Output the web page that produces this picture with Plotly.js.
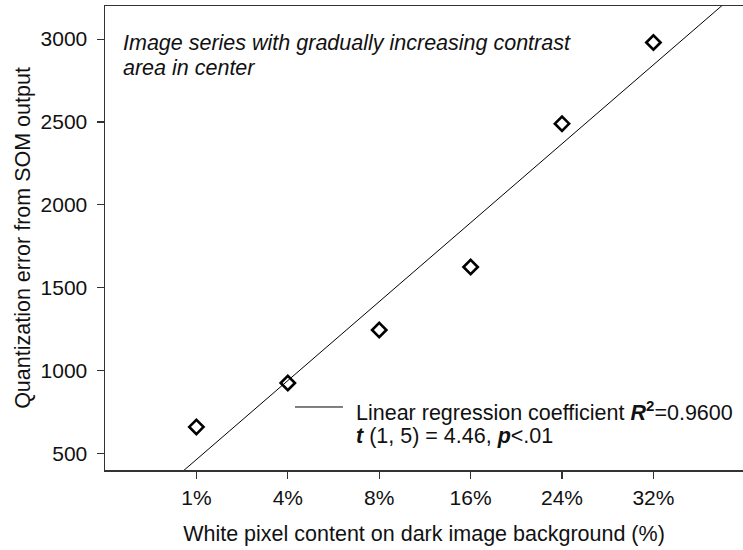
<!DOCTYPE html>
<html>
<head>
<meta charset="utf-8">
<script src="https://cdn.plot.ly/plotly-3.0.1.min.js"></script>
<style>html,body{margin:0;padding:0;background:#fff;}#chart{width:743px;height:550px;}</style>
</head>
<body>
<div id="chart"></div>
<script>
// Data
const categories = ["1%", "4%", "8%", "16%", "24%", "32%"];
const quantError = [660, 925, 1245, 1625, 2490, 2980];
const yTicks = [500, 1000, 1500, 2000, 2500, 3000];

const xIdx = categories.map((_, i) => i);

// Least-squares regression of the plotted points
const n = xIdx.length;
const mx = xIdx.reduce((a, b) => a + b, 0) / n;
const my = quantError.reduce((a, b) => a + b, 0) / n;
let sxy = 0, sxx = 0;
for (let i = 0; i < n; i++) { sxy += (xIdx[i] - mx) * (quantError[i] - my); sxx += (xIdx[i] - mx) ** 2; }
const slope = sxy / sxx;
const intercept = my - slope * mx;
const xRange = [-1, 5.98];
const fitX = [xRange[0], xRange[1]];
const fitY = fitX.map(x => intercept + slope * x);

const FONT = "Arial, 'Liberation Sans', sans-serif";
const FS = 21.5;

const traces = [
  {
    x: fitX, y: fitY, mode: "lines", type: "scatter",
    line: {color: "#000", width: 1}, hoverinfo: "skip", showlegend: false
  },
  {
    x: xIdx, y: quantError, mode: "markers", type: "scatter",
    marker: {symbol: "diamond-open", size: 11, color: "#000", line: {color: "#000", width: 2.6}},
    showlegend: false, cliponaxis: false
  }
];

const layout = {
  width: 743, height: 550,
  margin: {l: 105, r: 0, t: 6, b: 80},
  paper_bgcolor: "#fff", plot_bgcolor: "#fff",
  font: {family: FONT, color: "#111", size: FS},
  showlegend: false,
  xaxis: {
    range: xRange, tickvals: xIdx, ticktext: categories,
    showgrid: false, zeroline: false,
    showline: true, mirror: true, linecolor: "#333", linewidth: 1.5,
    ticks: "outside", ticklen: 7, tickcolor: "#333", tickwidth: 1.2,
    tickfont: {size: 21}, ticklabelstandoff: 1,
    title: {text: "White pixel content on dark image background (%)", font: {size: FS}, standoff: 18}
  },
  yaxis: {
    range: [400, 3200], tickvals: yTicks, ticktext: yTicks.map(String),
    showgrid: false, zeroline: false,
    showline: true, linecolor: "#333", linewidth: 1.5,
    ticks: "outside", ticklen: 7, tickcolor: "#333", tickwidth: 1.2,
    tickfont: {size: 21}, ticklabelstandoff: 5,
    title: {text: "Quantization error from SOM output", font: {size: FS}, standoff: 4}
  },
  shapes: [
    {type: "line", xref: "paper", yref: "paper", x0: 0.2978, x1: 0.373, y0: 0.1358, y1: 0.1358,
     line: {color: "#000", width: 1}}
  ],
  annotations: [
    {xref: "paper", yref: "paper", x: 0.0251, y: 0.920, xanchor: "left", yanchor: "middle", align: "left",
     showarrow: false, font: {size: FS, color: "#111"},
     text: "<i>Image series with gradually increasing contrast</i>"},
    {xref: "paper", yref: "paper", x: 0.0251, y: 0.866, xanchor: "left", yanchor: "middle", align: "left",
     showarrow: false, font: {size: FS, color: "#111"},
     text: "<i>area in center</i>"},
    {xref: "paper", yref: "paper", x: 0.3903, y: 0.128, xanchor: "left", yanchor: "middle", align: "left",
     showarrow: false, font: {size: FS, color: "#111"},
     text: "Linear regression coefficient <b><i>R</i><sup>2</sup></b>=0.9600"},
    {xref: "paper", yref: "paper", x: 0.3903, y: 0.073, xanchor: "left", yanchor: "middle", align: "left",
     showarrow: false, font: {size: FS, color: "#111"},
     text: "<b><i>t</i></b> (1, 5) = 4.46, <b><i>p</i></b><.01"}
  ]
};

Plotly.newPlot("chart", traces, layout, {staticPlot: true, displayModeBar: false});
</script>
</body>
</html>
